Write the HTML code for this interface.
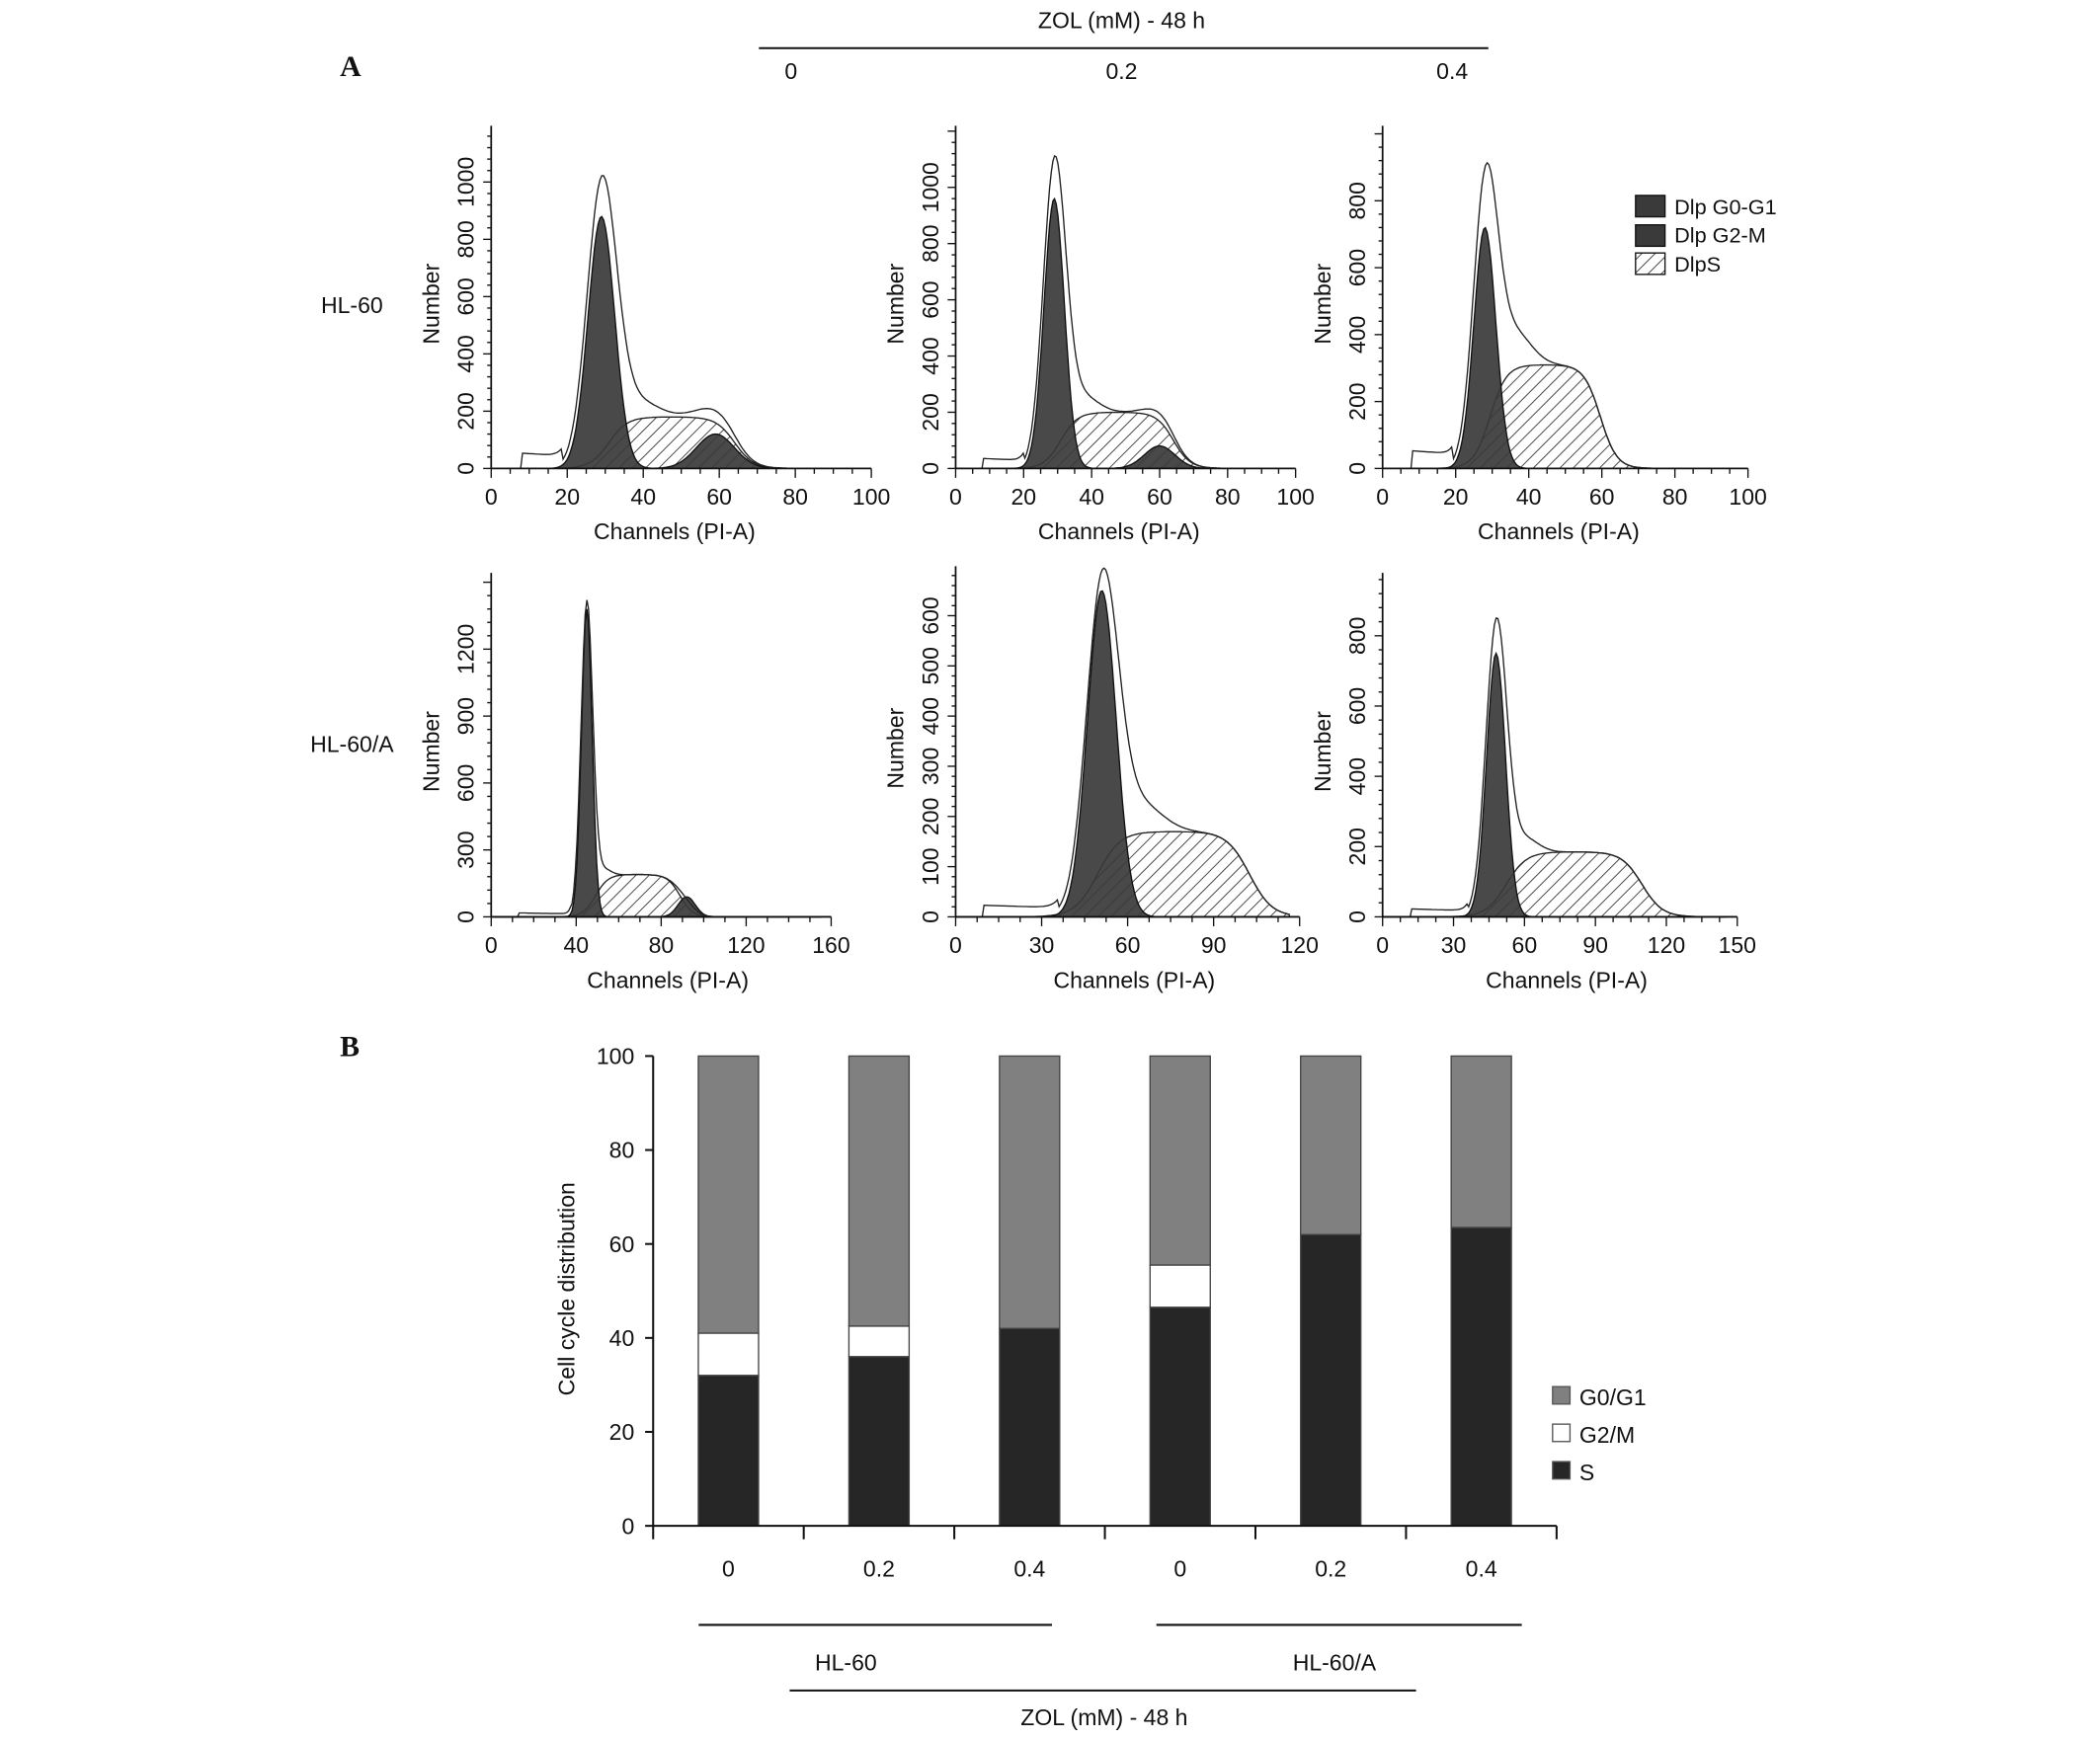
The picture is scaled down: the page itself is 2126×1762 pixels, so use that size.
<!DOCTYPE html>
<html><head><meta charset="utf-8"><style>
html,body{margin:0;padding:0;background:#fff}
svg{display:block}
text{font-family:"Liberation Sans",Arial,sans-serif;fill:#111}
</style></head><body>
<svg id="fig" width="2126" height="1762" viewBox="0 0 1569 1300" preserveAspectRatio="none" xmlns="http://www.w3.org/2000/svg">
<defs>
<pattern id="hatch" patternUnits="userSpaceOnUse" width="7" height="7" patternTransform="rotate(45)">
<rect width="7" height="7" fill="#fff"/><line x1="0" y1="0" x2="0" y2="7" stroke="#333" stroke-width="1.3"/>
</pattern>
</defs>
<text x="254" y="57" style="font-family:'Liberation Serif',serif;font-weight:bold;font-size:22px">A</text>
<text x="254" y="789" style="font-family:'Liberation Serif',serif;font-weight:bold;font-size:22px">B</text>
<text x="838" y="21" text-anchor="middle" font-size="17">ZOL (mM) - 48 h</text>
<line x1="567" y1="36" x2="1112" y2="36" stroke="#111" stroke-width="1.5"/>
<text x="591" y="59" text-anchor="middle" font-size="17">0</text>
<text x="838" y="59" text-anchor="middle" font-size="17">0.2</text>
<text x="1085" y="59" text-anchor="middle" font-size="17">0.4</text>
<text x="263" y="234" text-anchor="middle" font-size="17">HL-60</text>
<text x="263" y="562" text-anchor="middle" font-size="17">HL-60/A</text>
<g>
<rect x="1222" y="146" width="22" height="16" fill="#3a3a3a" stroke="#111"/>
<text x="1251" y="160" font-size="16">Dlp G0-G1</text>
<rect x="1222" y="168" width="22" height="16" fill="#3a3a3a" stroke="#111"/>
<text x="1251" y="181" font-size="16">Dlp G2-M</text>
<rect x="1222" y="189" width="22" height="16" fill="url(#hatch)" stroke="#111"/>
<text x="1251" y="203" font-size="16">DlpS</text>
</g>
<g id="hists"></g>
<g id="bars"></g>
</svg>
<script>
// ---------- histogram data (6 panels) ----------
const panelXMax   = [100, 100, 100, 160, 120, 150];
const panelXStep  = [20, 20, 20, 40, 30, 30];
const panelYMax   = [1000, 1000, 800, 1200, 600, 800];
const panelYStep  = [200, 200, 200, 300, 100, 200];
const g1Mu    = [29, 29, 28, 45, 51, 48];
const g1Sd    = [3.5, 3.0, 3.0, 2.5, 5.0, 4.0];
const g1H     = [880, 960, 720, 1380, 650, 750];
const g2Mu    = [59, 60, 0, 92, 0, 0];
const g2Sd    = [5, 4.5, 1, 4, 1, 1];
const g2H     = [120, 80, 0, 90, 0, 0];
const sStart  = [25, 25, 24, 42, 40, 42];
const sEnd    = [70, 70, 65, 96, 112, 120];
const sH      = [180, 200, 310, 190, 170, 185];
const peakH   = [1020, 1110, 900, 1420, 690, 850];
const debrisH = [60, 40, 60, 20, 25, 25];

const pxL = [367, 714, 1033, 367, 714, 1033];
const pxR = [651, 968, 1306, 621, 971, 1298];
const pyB = [350, 350, 350, 685, 685, 685];
const pyTopVal = [136, 140, 150, 485, 460, 475];
const pyTop = [94, 94, 94, 428, 423, 428];

const NS = "http://www.w3.org/2000/svg";
function mk(tag, attrs, parent){
  const e = document.createElementNS(NS, tag);
  for (const k in attrs) e.setAttribute(k, attrs[k]);
  parent.appendChild(e); return e;
}
function gauss(x, m, s, h){ return h*Math.exp(-0.5*((x-m)/s)**2); }
function sComp(i, x){
  const a=sStart[i], b=sEnd[i], w=(b-a)*0.22;
  const up = 1/(1+Math.exp(-(x-(a+w*0.6))/(w*0.25)));
  const dn = 1/(1+Math.exp((x-(b-w*0.6))/(w*0.25)));
  return sH[i]*up*dn;
}
const H = document.getElementById('hists');
for (let i=0;i<6;i++){
  const g = mk('g', {}, H);
  
  
  const X = v => pxL[i] + (pxR[i]-pxL[i]) * v / panelXMax[i];
  const Y = v => pyB[i] - (pyB[i]-pyTopVal[i]) * v / panelYMax[i];
  const N = 200, xs=[];
  for (let k=0;k<=N;k++) xs.push(panelXMax[i]*0.97*k/N);
  const ptsStr = f => xs.map(x=>X(x).toFixed(1)+','+Y(f(x)).toFixed(1)).join(' ');
  const base = X(0)+','+pyB[i];
  const end = X(xs[N])+','+pyB[i];
  const sp = mk('polygon', {points: base+' '+ptsStr(x=>sComp(i,x))+' '+end, fill:'url(#hatch)', stroke:'#222','stroke-width':1}, g);
  
  
  const g1 = mk('polygon', {points: base+' '+ptsStr(x=>gauss(x,g1Mu[i],g1Sd[i],g1H[i]))+' '+end, fill:'#3a3a3a', 'fill-opacity':0.92, stroke:'#111','stroke-width':1}, g);
  
  
  if (g2H[i]>0){
    const g2 = mk('polygon', {points: base+' '+ptsStr(x=>gauss(x,g2Mu[i],g2Sd[i],g2H[i]))+' '+end, fill:'#3a3a3a','fill-opacity':0.92, stroke:'#111','stroke-width':1}, g);
    
    
  }
  const bump = x => gauss(x,g1Mu[i]+g1Sd[i]*2.5,g1Sd[i]*1.6,sH[i]*0.35);
  const muV = sComp(i,g1Mu[i]) + bump(g1Mu[i]);
  const gh = Math.max(peakH[i]-muV, 0);
  const tot = x => {
    let v = gauss(x,g1Mu[i],g1Sd[i]*1.1,gh) + sComp(i,x) + gauss(x,g2Mu[i],g2Sd[i],g2H[i])*0.35 + bump(x);
    if (x < g1Mu[i]-3*g1Sd[i] && x > panelXMax[i]*0.08) v += debrisH[i]*(1-0.4*x/g1Mu[i]);
    return v;
  };
  const ol = mk('polyline', {points: ptsStr(tot), fill:'none', stroke:'#222','stroke-width':1}, g);
  
  
  mk('line',{x1:pxL[i],y1:pyB[i],x2:pxR[i],y2:pyB[i],stroke:'#111','stroke-width':1.3},g);
  mk('line',{x1:pxL[i],y1:pyB[i],x2:pxL[i],y2:pyTop[i],stroke:'#111','stroke-width':1.3},g);
  for (let v=0; v<=panelXMax[i]+1e-9; v+=panelXStep[i]/4){
    const major = Math.abs(v/panelXStep[i]-Math.round(v/panelXStep[i]))<1e-6;
    mk('line',{x1:X(v),y1:pyB[i],x2:X(v),y2:pyB[i]+(major?7:4),stroke:'#111','stroke-width':1},g);
    if (major){
      const t = mk('text',{x:X(v),y:pyB[i]+27,'text-anchor':'middle','font-size':17},g);
      t.textContent = Math.round(v);
      
      
    }
  }
  for (let v=0; Y(v)>=pyTop[i]; v+=panelYStep[i]/5){
    const major = Math.abs(v/panelYStep[i]-Math.round(v/panelYStep[i]))<1e-6;
    mk('line',{x1:pxL[i],y1:Y(v),x2:pxL[i]-(major?6:3),y2:Y(v),stroke:'#111','stroke-width':1},g);
    if (major && v<=panelYMax[i]){
      const t = mk('text',{x:0,y:0,'text-anchor':'middle','font-size':17,transform:`translate(${pxL[i]-13},${Y(v)}) rotate(-90)`},g);
      t.textContent = Math.round(v);
      
      
    }
  }
  const xt = mk('text',{x:(pxL[i]+pxR[i])/2+ (i<3?-5:5),y:pyB[i]+53,'text-anchor':'middle','font-size':17},g);
  xt.textContent = 'Channels (PI-A)';
  
  
  const yt = mk('text',{x:0,y:0,'text-anchor':'middle','font-size':17,transform:`translate(${pxL[i]-39},${(pyB[i]+pyTop[i])/2+5}) rotate(-90)`},g);
  yt.textContent = 'Number';
  
  
}

// ---------- bar chart ----------
const barCats  = ['0','0.2','0.4','0','0.2','0.4'];
const sVals    = [32, 36, 42, 46.5, 62, 63.5];
const g2mVals  = [9, 6.5, 0, 9, 0, 0];
const barYTicks = [0, 20, 40, 60, 80, 100];
const B = document.getElementById('bars');
const bx0=488, bx1=1163, by0=1140, by1=789;
const BY = v => by0 - (by0-by1)*v/100;
const slot = (bx1-bx0)/barCats.length;
const BX = i => bx0 + slot*(i+0.5);
const bw = 45;
for (let i=0;i<barCats.length;i++){
  const s=sVals[i], g2=g2mVals[i];
  const r1 = mk('rect',{x:BX(i)-bw/2,y:BY(100),width:bw,height:BY(s+g2)-BY(100),fill:'#808080',stroke:'#444','stroke-width':1},B);
  
  
  if (g2>0){
    const r2 = mk('rect',{x:BX(i)-bw/2,y:BY(s+g2),width:bw,height:BY(s)-BY(s+g2),fill:'#fff',stroke:'#444','stroke-width':1},B);
    
    
  }
  const r3 = mk('rect',{x:BX(i)-bw/2,y:BY(s),width:bw,height:BY(0)-BY(s),fill:'#262626',stroke:'#444','stroke-width':1},B);
  
  
  const t = mk('text',{x:BX(i),y:1178,'text-anchor':'middle','font-size':17},B);
  t.textContent = barCats[i];
  
  
}
mk('line',{x1:bx0,y1:by0,x2:bx0,y2:by1,stroke:'#111','stroke-width':1.5},B);
mk('line',{x1:bx0,y1:by0,x2:bx1,y2:by0,stroke:'#111','stroke-width':1.5},B);
for (let i=0;i<=barCats.length;i++) mk('line',{x1:bx0+slot*i,y1:by0,x2:bx0+slot*i,y2:by0+10,stroke:'#111','stroke-width':1.5},B);
for (const v of barYTicks){
  mk('line',{x1:bx0,y1:BY(v),x2:bx0-6,y2:BY(v),stroke:'#111','stroke-width':1.5},B);
  const t = mk('text',{x:bx0-14,y:BY(v)+6,'text-anchor':'end','font-size':17},B);
  t.textContent = v;
  
  
}
const byt = mk('text',{x:0,y:0,'text-anchor':'middle','font-size':17,transform:'translate(429,963) rotate(-90)'},B);
byt.textContent='Cell cycle distribution';


function line(x1,y1,x2,y2,name){const l=mk('line',{x1,y1,x2,y2,stroke:'#111','stroke-width':1.5},B);}
line(522,1214,786,1214,'group-line-hl60');
line(864,1214,1137,1214,'group-line-hl60a');
line(590,1263,1058,1263,'treatment-line');
function txt(x,y,s,name,anchor){const t=mk('text',{x,y,'text-anchor':anchor||'middle','font-size':17},B);t.textContent=s;}
txt(632,1248,'HL-60','group-label-hl60');
txt(997,1248,'HL-60/A','group-label-hl60a');
txt(825,1289,'ZOL (mM) - 48 h','bottom-treatment-title');
const legCols=['#808080','#fff','#262626'], legNames=['G0/G1','G2/M','S'];
for (let k=0;k<3;k++){
  const r=mk('rect',{x:1160,y:1036+k*28,width:13,height:13,fill:legCols[k],stroke:'#555','stroke-width':1},B);
  
  
  txt(1180,1050+k*28,legNames[k],'bar-legend-label','start');
}
</script>
</body></html>
